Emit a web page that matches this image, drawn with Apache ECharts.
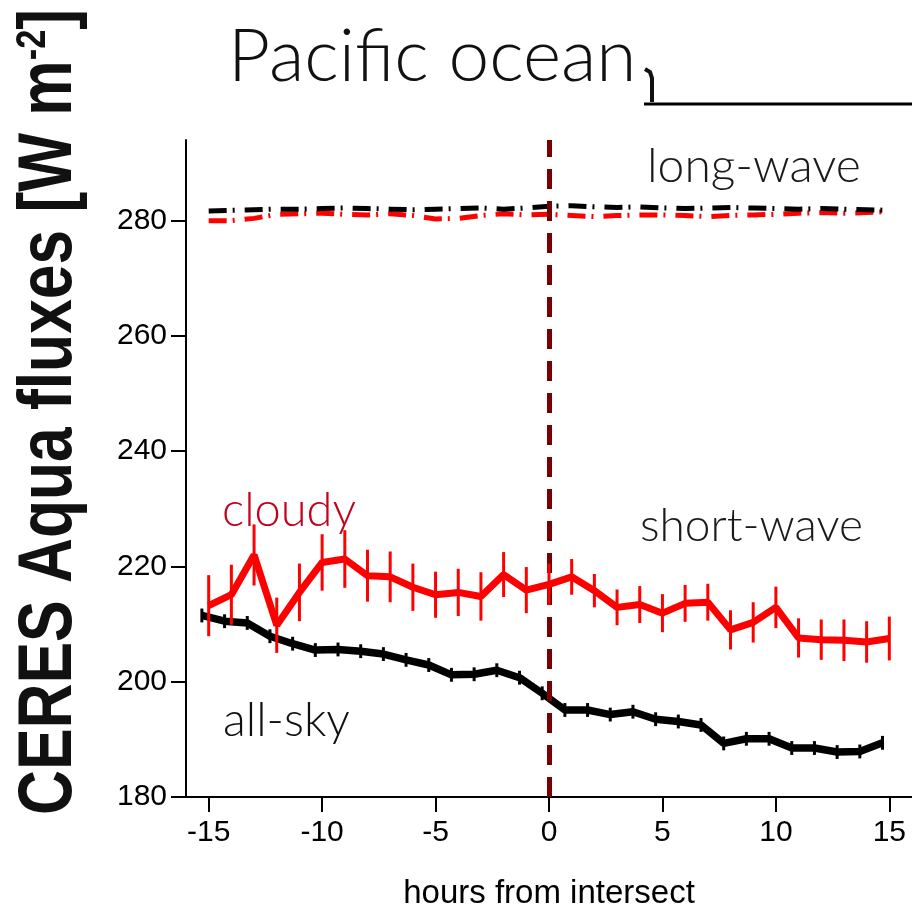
<!DOCTYPE html>
<html>
<head>
<meta charset="utf-8">
<script src="https://cdn.jsdelivr.net/npm/echarts@6/dist/echarts.min.js"></script>
<style>
html,body{margin:0;padding:0;background:#fff;}
#chart{width:912px;height:915px;}
</style>
</head>
<body>
<div id="chart"></div>
<script>
// ---- data ----
const hours = [-15,-14,-13,-12,-11,-10,-9,-8,-7,-6,-5,-4,-3,-2,-1,0,1,2,3,4,5,6,7,8,9,10,11,12,13,14,15];
const allSkyHours = [-15.3,-14.3,-13.3,-12.3,-11.3,-10.3,-9.3,-8.3,-7.3,-6.3,-5.3,-4.3,-3.3,-2.3,-1.3,-0.3,0.7,1.7,2.7,3.7,4.7,5.7,6.7,7.7,8.7,9.7,10.7,11.7,12.7,13.7,14.7];
const xTicks = [-15,-10,-5,0,5,10,15];
const yTicks = [180,200,220,240,260,280];

const lwAllSky = [281.7,281.8,281.9,282.0,282.0,282.1,282.2,282.1,282.0,281.9,282.0,282.1,282.2,282.0,282.2,282.5,282.6,282.4,282.3,282.4,282.2,282.1,282.2,282.3,282.2,282.1,282.0,282.1,282.0,281.9,281.8];
const lwCloudy = [280.0,280.0,280.4,281.1,281.2,281.3,281.1,281.0,281.2,280.9,280.3,280.4,280.9,281.2,281.0,281.1,280.9,280.7,280.9,281.0,281.0,280.9,280.7,280.9,281.0,281.1,281.3,281.4,281.3,281.4,281.6];

const swCloudy = [213.2,215.1,222.0,209.8,215.5,220.7,221.3,218.4,218.2,216.4,215.1,215.5,214.8,218.6,215.9,216.9,218.2,215.8,212.9,213.4,211.9,213.6,213.8,209.0,210.3,212.9,207.6,207.3,207.2,206.9,207.5];
const swCloudyErr = [5.3,5.2,5.3,4.8,5.0,4.9,5.0,4.5,4.4,4.1,4.0,4.1,4.2,3.9,4.0,3.6,3.1,2.9,3.1,3.2,3.3,3.2,3.2,3.4,3.5,3.6,3.4,3.5,3.6,3.6,3.8];

const swAllSky = [211.5,210.5,210.2,207.9,206.6,205.5,205.6,205.3,204.8,203.8,202.9,201.2,201.3,202.0,200.7,198.0,195.1,195.1,194.3,194.8,193.5,193.1,192.5,189.3,190.1,190.1,188.5,188.5,187.8,187.9,189.4];
const swAllSkyErr = [1.2,1.2,1.2,1.2,1.2,1.2,1.2,1.2,1.2,1.2,1.2,1.2,1.2,1.2,1.2,1.2,1.2,1.2,1.2,1.2,1.2,1.2,1.2,1.2,1.2,1.2,1.2,1.2,1.2,1.2,1.2];

// ---- build ----
const pairs = (xs, ys) => xs.map((x, i) => [x, ys[i]]);
const errData = (xs, ys, es) => xs.map((x, i) => [x, ys[i] - es[i], ys[i] + es[i]]);

function errRender(color, width) {
  return function (params, api) {
    const a = api.coord([api.value(0), api.value(1)]);
    const b = api.coord([api.value(0), api.value(2)]);
    return { type: 'line', shape: { x1: a[0], y1: a[1], x2: b[0], y2: b[1] },
             style: { stroke: color, lineWidth: width } };
  };
}

const chart = echarts.init(document.getElementById('chart'), null, { renderer: 'canvas' });
const labelFont = 'Liberation Sans';

chart.setOption({
  animation: false,
  backgroundColor: '#fff',
  grid: { left: 186, right: 0, top: 140, bottom: 115, containLabel: false },
  xAxis: {
    type: 'value', min: -16, max: 16,
    name: 'hours from intersect', nameLocation: 'middle', nameGap: 80,
    nameTextStyle: { fontFamily: labelFont, fontSize: 33, color: '#000' },
    axisLine: { show: true, onZero: false, lineStyle: { color: '#000', width: 2 } },
    axisTick: { show: true, length: 15, customValues: xTicks, lineStyle: { color: '#000', width: 2 } },
    axisLabel: { customValues: xTicks, fontFamily: labelFont, fontSize: 30, color: '#000', margin: 21 },
    splitLine: { show: false }
  },
  yAxis: {
    type: 'value', min: 180, max: 294,
    axisLine: { show: true, onZero: false, lineStyle: { color: '#000', width: 2 } },
    axisTick: { show: true, length: 15, customValues: yTicks, lineStyle: { color: '#000', width: 2 } },
    axisLabel: { customValues: yTicks, fontFamily: labelFont, fontSize: 30, color: '#000', margin: 19 },
    splitLine: { show: false }
  },
  graphic: [
    { type: 'text', x: 228, y: 94, style: { text: 'Pacific ocean', font: '300 73px Lato', fill: '#111', textAlign: 'left', textVerticalAlign: 'bottom' } },
    { type: 'polyline', shape: { points: [[645, 69], [650, 72], [652, 78], [652, 102]] }, style: { stroke: '#111', lineWidth: 4, fill: null } },
    { type: 'line', shape: { x1: 644, y1: 104, x2: 912, y2: 104 }, style: { stroke: '#000', lineWidth: 3 } },
    { type: 'text', x: 647, y: 191, style: { text: 'long-wave', font: '300 48px Lato', fill: '#1a1a1a', textAlign: 'left', textVerticalAlign: 'bottom' } },
    { type: 'text', x: 640, y: 549, style: { text: 'short-wave', font: '300 46px Lato', fill: '#1a1a1a', textAlign: 'left', textVerticalAlign: 'bottom' } },
    { type: 'text', x: 222, y: 534, style: { text: 'cloudy', font: '300 47px Lato', fill: '#c4001a', textAlign: 'left', textVerticalAlign: 'bottom' } },
    { type: 'text', x: 223, y: 744, style: { text: 'all-sky', font: '300 47px Lato', fill: '#111', textAlign: 'left', textVerticalAlign: 'bottom' } },
    { type: 'text', x: 50, y: 412, rotation: Math.PI / 2, scaleX: 0.82,
      style: {
        text: '{b|CERES Aqua fluxes [W m}{s|-2}{b|]}',
        textAlign: 'center', textVerticalAlign: 'middle',
        rich: {
          b: { fontFamily: 'Liberation Sans', fontWeight: 'bold', fontSize: 76, fill: '#111', color: '#111' },
          s: { fontFamily: 'Liberation Sans', fontWeight: 'bold', fontSize: 42, fill: '#111', color: '#111', verticalAlign: 'top' }
        }
      } }
  ],
  series: [
    { type: 'line', data: pairs(hours, lwCloudy), symbol: 'none', z: 2,
      lineStyle: { color: '#ff0000', width: 5, type: [18, 6, 2, 10] } },
    { type: 'line', data: pairs(hours, lwAllSky), symbol: 'none', z: 3,
      lineStyle: { color: '#000', width: 5, type: [18, 6, 2, 10] } },
    { type: 'custom', data: errData(allSkyHours, swAllSky, swAllSkyErr), renderItem: errRender('#000', 3), z: 4 },
    { type: 'line', data: pairs(allSkyHours, swAllSky), symbol: 'none', z: 4,
      lineStyle: { color: '#000', width: 7.5 } },
    { type: 'custom', data: errData(hours, swCloudy, swCloudyErr), renderItem: errRender('#ff0000', 3), z: 5 },
    { type: 'line', data: pairs(hours, swCloudy), symbol: 'none', z: 5,
      lineStyle: { color: '#ff0000', width: 7 } },
    { type: 'line', data: [], z: 10,
      markLine: { silent: true, symbol: 'none', label: { show: false },
        lineStyle: { color: '#7a0000', width: 5, type: [20, 12] },
        data: [{ xAxis: 0 }] } }
  ]
});
</script>
</body>
</html>
